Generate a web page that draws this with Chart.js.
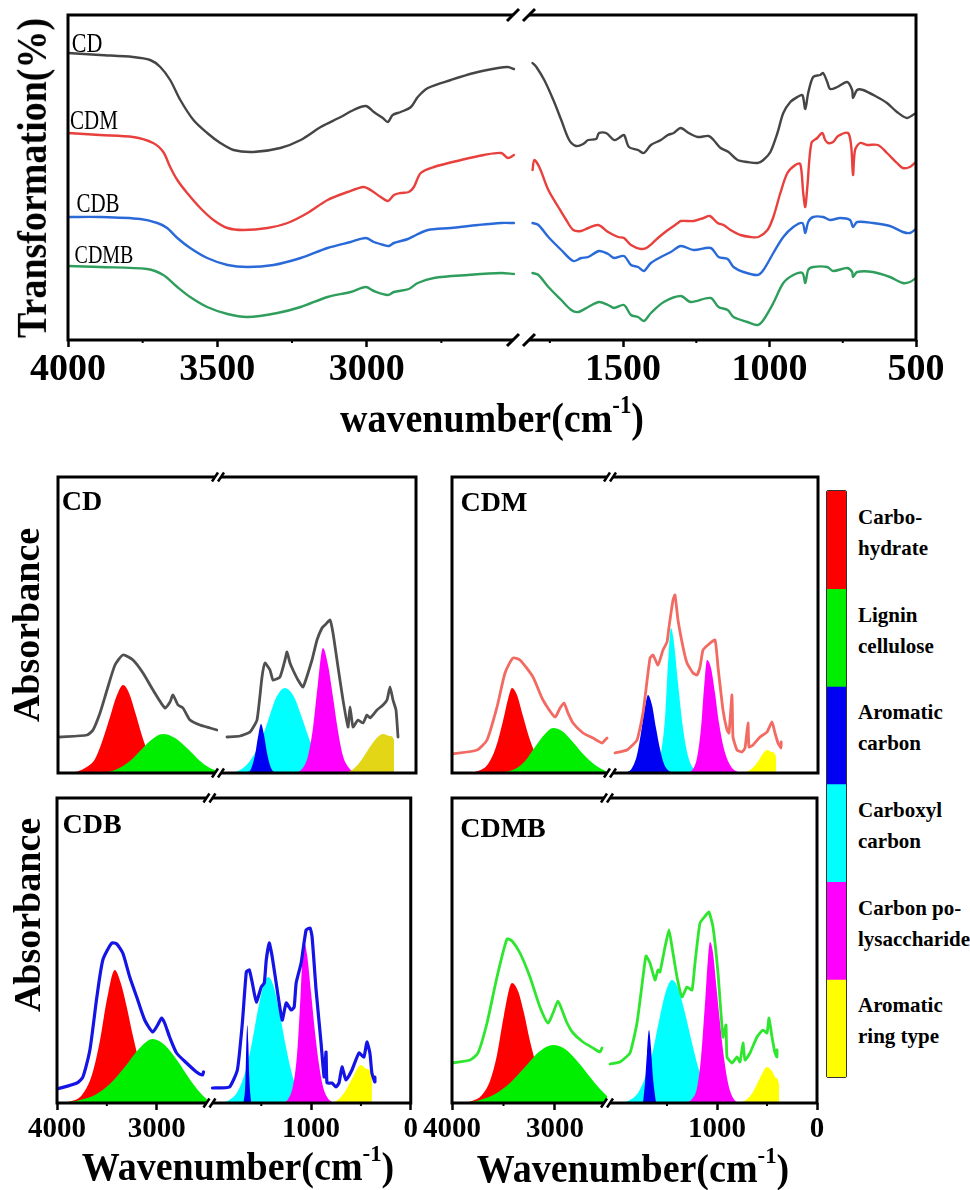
<!DOCTYPE html>
<html><head><meta charset="utf-8">
<script src="https://cdn.jsdelivr.net/npm/chart.js@4.4.1/dist/chart.umd.min.js"></script>
<style>
html,body{margin:0;padding:0;background:#fff;}
#page{position:relative;width:970px;height:1190px;overflow:hidden;background:#fff;font-family:"Liberation Serif","Times New Roman",serif;color:#000;}
canvas{position:absolute;}
.t{position:absolute;white-space:nowrap;line-height:1;}
.b{font-weight:bold;}
.sup{font-size:0.6em;position:relative;top:-0.8em;}
.leg{position:absolute;left:858px;font-weight:bold;font-size:21px;line-height:31px;white-space:nowrap;}
#legbox{position:absolute;left:826px;top:490px;width:19px;height:586px;border:1.5px solid #333;border-radius:2px;overflow:hidden;}
#legbox canvas{position:static;display:block;}
</style></head><body><div id="page">
<canvas id="cTop" style="left:0;top:0" width="970" height="400"></canvas>
<canvas id="cCD" style="left:0;top:465px" width="420" height="315"></canvas>
<canvas id="cCDM" style="left:420px;top:465px" width="410" height="315"></canvas>
<canvas id="cCDB" style="left:0;top:785px" width="420" height="405"></canvas>
<canvas id="cCDMB" style="left:420px;top:785px" width="410" height="405"></canvas>
<div id="legbox"><canvas id="cLeg" width="19" height="586"></canvas></div>

<div class="t b" style="left:32px;top:178px;font-size:38px;transform:translate(-50%,-50%) rotate(-90deg) scaleY(1.1);">Transformation(%)</div>
<div class="t b" style="left:492px;top:418px;font-size:38px;transform:translate(-50%,-50%) scaleY(1.1);">wavenumber(cm<span class="sup">-1</span>)</div>
<div class="t" style="left:87px;top:43px;font-size:22px;transform:translate(-50%,-50%) scaleY(1.25);">CD</div>
<div class="t" style="left:94px;top:121px;font-size:21px;transform:translate(-50%,-50%) scaleY(1.25);">CDM</div>
<div class="t" style="left:98px;top:204px;font-size:21px;transform:translate(-50%,-50%) scaleY(1.25);">CDB</div>
<div class="t" style="left:104px;top:254px;font-size:20px;transform:translate(-50%,-50%) scaleY(1.25);">CDMB</div>

<div class="t b" style="left:82px;top:501px;font-size:28px;transform:translate(-50%,-50%);">CD</div>
<div class="t b" style="left:494px;top:502px;font-size:28px;transform:translate(-50%,-50%);">CDM</div>
<div class="t b" style="left:92px;top:824px;font-size:28px;transform:translate(-50%,-50%);">CDB</div>
<div class="t b" style="left:503px;top:828px;font-size:28px;transform:translate(-50%,-50%);">CDMB</div>
<div class="t b" style="left:26px;top:625px;font-size:38px;transform:translate(-50%,-50%) rotate(-90deg);">Absorbance</div>
<div class="t b" style="left:27px;top:915px;font-size:38px;transform:translate(-50%,-50%) rotate(-90deg);">Absorbance</div>
<div class="t b" style="left:238px;top:1166px;font-size:38px;transform:translate(-50%,-50%) scaleY(1.05);">Wavenumber(cm<span class="sup">-1</span>)</div>
<div class="t b" style="left:633px;top:1168px;font-size:38px;transform:translate(-50%,-50%) scaleY(1.05);">Wavenumber(cm<span class="sup">-1</span>)</div>
</div>
<script>
// ---------------- DATA ----------------
// Top panel (FTIR transmittance, arbitrary units), [wavenumber, value]
const TOP_CD_L = [[4000,287],[3893,285],[3782,283],[3725,280],[3691,273],[3658,260],[3624,240],[3580,220],[3534,207],[3490,197],[3446,190],[3379,188],[3289,192],[3221,200],[3154,213],[3087,223],[3044,230],[3003,234],[2976,228],[2946,222],[2929,218],[2913,225],[2886,228],[2852,233],[2829,243],[2795,252],[2718,260],[2641,267],[2560,272],[2527,273],[2507,271]];
const TOP_CD_R = [[1809,277],[1796,273],[1769,260],[1738,240],[1711,220],[1684,200],[1660,194],[1636,196],[1619,200],[1592,201],[1582,207],[1558,207],[1531,200],[1514,202],[1497,205],[1480,193],[1449,190],[1429,187],[1405,195],[1371,200],[1347,205],[1327,207],[1303,212],[1276,207],[1245,203],[1208,204],[1191,200],[1167,192],[1140,188],[1109,180],[1075,178],[1041,177],[1021,180],[997,188],[973,207],[953,227],[929,238],[905,243],[888,245],[878,231],[868,247],[851,263],[827,265],[817,267],[803,258],[793,251],[769,253],[735,258],[718,250],[715,242],[701,250],[681,250],[633,243],[599,237],[565,228],[531,222],[511,225],[500,227]];
const TOP_CDM_L = [[4000,207],[3893,205],[3782,203],[3715,197],[3681,188],[3658,173],[3634,160],[3601,147],[3557,132],[3513,120],[3466,112],[3413,110],[3332,112],[3265,117],[3198,127],[3131,140],[3064,148],[3010,153],[2987,150],[2953,143],[2929,139],[2909,145],[2886,147],[2859,148],[2842,153],[2819,167],[2775,173],[2684,180],[2607,185],[2550,187],[2527,182],[2507,185]];
const TOP_CDM_R = [[1809,170],[1803,180],[1786,173],[1755,150],[1721,133],[1694,120],[1670,110],[1643,109],[1619,112],[1585,115],[1551,108],[1517,103],[1497,102],[1473,95],[1439,91],[1415,93],[1381,102],[1347,110],[1313,117],[1303,119],[1259,119],[1225,122],[1204,124],[1177,117],[1157,115],[1133,110],[1099,105],[1065,103],[1038,103],[1007,110],[987,123],[963,147],[939,167],[912,175],[895,176],[885,147],[878,133],[871,153],[857,197],[837,202],[820,207],[810,200],[800,197],[783,198],[766,204],[732,207],[721,193],[715,165],[708,190],[691,197],[667,195],[630,195],[599,187],[565,177],[545,172],[521,173],[500,178]];
const TOP_CDB_L = [[4000,123],[3893,123],[3758,121],[3701,117],[3668,112],[3634,102],[3591,92],[3534,82],[3466,75],[3399,73],[3312,75],[3221,82],[3131,92],[3054,98],[3003,102],[2976,98],[2943,95],[2926,94],[2909,97],[2862,101],[2835,105],[2795,110],[2718,112],[2627,115],[2550,117],[2507,117]];
const TOP_CDB_R = [[1809,117],[1789,115],[1755,103],[1711,90],[1670,79],[1643,82],[1619,83],[1582,89],[1551,86],[1531,82],[1497,84],[1473,75],[1449,73],[1429,69],[1405,77],[1371,83],[1337,88],[1303,94],[1259,90],[1201,92],[1174,83],[1143,81],[1123,73],[1089,68],[1041,65],[1021,70],[987,87],[953,103],[919,113],[888,117],[878,107],[868,118],[851,123],[817,123],[793,120],[759,122],[725,120],[715,113],[701,118],[647,117],[589,114],[545,108],[521,107],[500,111]];
const TOP_CDMB_L = [[4000,74],[3893,73],[3735,71],[3681,65],[3634,53],[3591,43],[3534,33],[3466,26],[3399,23],[3299,27],[3221,33],[3131,43],[3054,48],[3003,53],[2976,49],[2929,45],[2909,48],[2859,51],[2829,57],[2775,62],[2661,65],[2550,67],[2507,66]];
const TOP_CDMB_R = [[1809,67],[1789,65],[1755,53],[1711,40],[1677,30],[1653,28],[1619,33],[1582,38],[1551,35],[1531,32],[1497,35],[1473,25],[1449,23],[1429,19],[1405,27],[1361,38],[1303,44],[1269,38],[1201,42],[1174,33],[1143,30],[1123,23],[1075,18],[1041,15],[1021,20],[987,37],[953,57],[919,65],[888,67],[878,57],[868,70],[851,73],[803,73],[783,69],[735,72],[718,68],[715,63],[701,68],[647,68],[589,63],[545,57],[521,58],[500,62]];

// Deconvolution panels: spectra (absorbance, a.u.)
const SP_CD_L = [[3980,36],[3710,38],[3650,43],[3580,60],[3510,83],[3430,108],[3350,118],[3250,113],[3150,100],[3050,83],[2930,65],[2880,71],[2850,78],[2800,68],[2750,65],[2680,53],[2580,48],[2480,45],[2410,43]];
const SP_CD_R = [[1890,36],[1760,37],[1660,41],[1590,53],[1540,96],[1510,110],[1460,103],[1430,93],[1360,96],[1310,113],[1290,121],[1260,110],[1230,103],[1180,93],[1130,86],[1040,113],[990,133],[940,145],[910,148],[860,153],[830,140],[780,106],[730,73],[680,46],[660,66],[630,46],[580,53],[530,50],[490,58],[460,55],[390,63],[330,68],[290,73],[260,86],[230,73],[200,63],[180,36]];
const SP_CDM_L = [[4000,19],[3757,23],[3660,33],[3563,66],[3485,100],[3408,115],[3340,113],[3214,96],[3117,73],[3000,56],[2951,65],[2913,70],[2874,60],[2825,50],[2728,40],[2631,35],[2544,30],[2514,33],[2495,35]];
const SP_CDM_R = [[2030,20],[1910,23],[1810,33],[1750,60],[1680,115],[1650,118],[1600,108],[1550,123],[1510,131],[1490,146],[1450,173],[1430,178],[1400,153],[1350,126],[1310,110],[1250,100],[1210,98],[1180,106],[1150,123],[1100,128],[1030,133],[1000,106],[950,63],[910,43],[890,40],[860,78],[850,36],[810,23],[760,21],[730,25],[700,50],[690,26],[650,28],[580,36],[510,41],[460,51],[430,40],[400,30],[370,25],[368,31]];
const SP_CDB_L = [[4000,14],[3800,20],[3740,26],[3670,53],[3600,106],[3540,143],[3450,160],[3400,159],[3340,150],[3270,126],[3200,106],[3120,83],[3040,71],[2990,78],[2950,85],[2920,80],[2870,66],[2800,50],[2700,40],[2600,31],[2540,28],[2530,31]];
const SP_CDB_R = [[1990,15],[1820,16],[1740,33],[1690,80],[1650,131],[1620,133],[1590,120],[1550,101],[1500,116],[1470,120],[1450,143],[1420,160],[1390,146],[1340,113],[1290,83],[1250,100],[1200,93],[1170,96],[1150,120],[1100,140],[1050,173],[1010,175],[990,166],[950,113],[900,60],[870,26],[850,51],[840,20],[790,20],[750,16],[720,20],[690,36],[650,23],[590,33],[520,50],[470,46],[440,61],[410,50],[390,30],[360,21],[360,26]];
const SP_CDMB_L = [[4000,40],[3825,43],[3748,50],[3660,80],[3563,126],[3466,164],[3417,162],[3340,150],[3243,126],[3146,96],[3068,80],[3019,90],[2971,102],[2932,93],[2883,80],[2825,70],[2728,61],[2631,55],[2563,51],[2544,55]];
const SP_CDMB_R = [[2070,39],[1970,41],[1870,50],[1800,80],[1740,126],[1710,147],[1670,140],[1620,123],[1590,133],[1570,131],[1520,156],[1480,173],[1450,156],[1400,126],[1350,106],[1300,116],[1250,113],[1220,140],[1170,180],[1110,188],[1080,191],[1040,176],[990,130],[940,66],[910,78],[900,46],[850,40],[800,46],[770,41],[740,60],[720,43],[670,50],[600,66],[540,73],[500,70],[480,85],[450,66],[420,50],[400,46],[400,53]];

// Fitted component peaks
const PK_CD_RED = [[3980,0],[3830,1],[3730,5],[3630,14],[3550,34],[3480,56],[3410,78],[3350,88],[3290,80],[3220,58],[3150,34],[3080,16],[3000,5],[2910,1],[2780,0]];
const PK_CD_GREEN = [[3580,0],[3430,3],[3280,12],[3180,22],[3080,32],[2950,39],[2830,35],[2700,24],[2580,12],[2480,5],[2400,2]];
const PK_CD_BLUE = [[1700,0],[1650,4],[1610,18],[1580,36],[1550,49],[1520,38],[1490,20],[1450,5],[1400,0]];
const PK_CD_CYAN = [[1860,0],[1760,3],[1660,12],[1560,30],[1480,52],[1400,75],[1310,85],[1220,76],[1140,55],[1060,32],[980,14],[880,4],[760,0]];
const PK_CD_MAG = [[1210,0],[1140,4],[1080,17],[1030,45],[980,90],[930,125],[880,108],[830,76],[780,42],[730,17],[670,5],[600,0]];
const PK_CD_YEL = [[710,0],[640,3],[560,11],[480,23],[410,33],[330,39],[260,37],[220,33],[219,0]];

const PK_CDM_RED = [[3874,0],[3748,2],[3650,9],[3573,26],[3505,52],[3456,74],[3417,85],[3369,78],[3311,57],[3243,33],[3165,14],[3087,4],[2990,0]];
const PK_CDM_GREEN = [[3534,0],[3388,4],[3291,12],[3194,26],[3097,39],[3019,45],[2932,42],[2835,32],[2728,19],[2611,8],[2495,1]];
const PK_CDM_BLUE = [[1920,0],[1860,5],[1810,18],[1770,40],[1730,66],[1700,78],[1660,68],[1620,45],[1580,24],[1540,9],[1490,2],[1440,0]];
const PK_CDM_CYAN = [[1660,0],[1610,5],[1570,20],[1530,55],[1500,110],[1470,145],[1440,130],[1400,90],[1350,45],[1300,17],[1250,5],[1180,0]];
const PK_CDM_MAG = [[1300,0],[1250,4],[1210,15],[1170,45],[1140,85],[1110,113],[1070,105],[1030,80],[990,50],[940,24],[880,8],[800,1],[740,0]];
const PK_CDM_YEL = [[750,0],[680,3],[610,10],[560,18],[510,23],[460,21],[420,16],[419,0]];

const PK_CDB_RED = [[3970,0],[3850,2],[3750,8],[3650,28],[3570,62],[3500,103],[3420,133],[3360,120],[3300,96],[3240,68],[3170,40],[3090,19],[3000,6],[2900,1],[2800,0]];
const PK_CDB_GREEN = [[3920,0],[3770,3],[3620,8],[3470,19],[3320,36],[3170,55],[3040,64],[2920,58],[2790,42],[2670,24],[2570,11],[2500,4],[2470,2]];
const PK_CDB_BLUE = [[1680,0],[1660,20],[1650,60],[1640,78],[1630,60],[1620,25],[1600,0]];
const PK_CDB_CYAN = [[1900,0],[1820,3],[1740,11],[1670,28],[1600,57],[1530,95],[1470,120],[1430,126],[1380,118],[1320,92],[1260,60],[1200,32],[1140,13],[1070,4],[1000,0]];
const PK_CDB_MAG = [[1290,0],[1230,4],[1180,18],[1140,50],[1110,100],[1090,140],[1070,161],[1040,148],[1000,110],[960,70],[920,38],[880,16],[840,6],[790,1],[740,0]];
const PK_CDB_YEL = [[800,0],[720,4],[650,13],[580,26],[500,38],[440,34],[390,27],[389,0]];

const PK_CDMB_RED = [[3903,0],[3806,2],[3709,8],[3631,22],[3563,48],[3495,88],[3417,120],[3359,112],[3301,90],[3243,62],[3175,36],[3097,16],[3019,6],[2932,1],[2835,0]];
const PK_CDMB_GREEN = [[3874,0],[3728,3],[3582,9],[3437,20],[3291,36],[3146,52],[3019,58],[2903,54],[2777,41],[2660,26],[2563,14],[2495,7]];
const PK_CDMB_BLUE = [[1740,0],[1720,20],[1700,50],[1680,73],[1660,55],[1640,25],[1610,0]];
const PK_CDMB_CYAN = [[1950,0],[1870,3],[1790,10],[1720,25],[1650,48],[1580,82],[1510,112],[1450,123],[1390,115],[1320,90],[1250,60],[1180,33],[1110,14],[1030,4],[950,0]];
const PK_CDMB_MAG = [[1310,0],[1250,4],[1200,15],[1160,45],[1120,100],[1090,145],[1070,161],[1040,150],[1010,120],[970,80],[930,45],[890,20],[850,7],[800,1],[750,0]];
const PK_CDMB_YEL = [[790,0],[710,3],[640,11],[570,25],[500,36],[450,32],[410,25],[380,18],[379,0]];

// Tick values
const TOP_TICKS_L = [4000, 3500, 3000];
const TOP_TICKS_R = [1500, 1000, 500];
const TOP_MINOR_L = [3750, 3250, 2750];
const TOP_MINOR_R = [1750, 1250, 750];
const SUB_TICKS_L = [4000, 3000];
const SUB_TICKS_R = [1000, 0];
const SUB_MINOR_L = [3500];
const SUB_MINOR_R = [1500, 500];

// Legend
const LEGEND_LABELS = [['Carbo-','hydrate'],['Lignin','cellulose'],['Aromatic','carbon'],['Carboxyl','carbon'],['Carbon po-','lysaccharide'],['Aromatic','ring type']];
const LEGEND_SHARE = [1,1,1,1,1,1];

// ---------------- STYLE ----------------
const COL = {red:'#ff0000', green:'#00ee00', blue:'#0000f2', cyan:'#00ffff', mag:'#ff00ff', yel:'#ffff00'};
const LEGEND_COLORS = [COL.red, COL.green, COL.blue, COL.cyan, COL.mag, COL.yel];

const framePlugin = {
  id: 'frame',
  afterDraw(chart, args, o) {
    const {ctx, chartArea: a} = chart;
    const xl = chart.scales.xL, xr = chart.scales.xR;
    ctx.save();
    ctx.strokeStyle = '#000';
    ctx.lineWidth = o.lw;
    ctx.strokeRect(a.left, a.top, a.right - a.left, a.bottom - a.top);
    if (o.minor) {
      ctx.lineWidth = 2;
      ctx.beginPath();
      (o.minorL || []).forEach(v => { const x = xl.getPixelForValue(v); ctx.moveTo(x, a.bottom); ctx.lineTo(x, a.bottom + o.minorLen); });
      (o.minorR || []).forEach(v => { const x = xr.getPixelForValue(v); ctx.moveTo(x, a.bottom); ctx.lineTo(x, a.bottom + o.minorLen); });
      ctx.stroke();
    }
    const bx = xl.right + (o.bOff || 0);
    for (const y of [a.top, a.bottom]) {
      ctx.fillStyle = '#fff';
      ctx.fillRect(bx - o.gap / 2, y - o.lw, o.gap, o.lw * 2);
      ctx.strokeStyle = '#000';
      ctx.lineWidth = o.blw;
      ctx.lineCap = 'butt';
      ctx.beginPath();
      for (const cx of [bx - o.gap / 2, bx + o.gap / 2]) {
        ctx.moveTo(cx - o.s, y + o.h / 2);
        ctx.lineTo(cx + o.s, y - o.h / 2);
      }
      ctx.stroke();
    }
    ctx.restore();
  }
};

function xScale(range, weight, majors, show, tc) {
  return {
    type: 'linear', position: 'bottom', stack: 'wn', stackWeight: weight,
    min: range[0], max: range[1], reverse: true,
    afterBuildTicks: s => { s.ticks = majors.map(v => ({value: v})); },
    afterFit: s => { s.height = tc.h; },
    grid: {display: show, drawOnChartArea: false, drawTicks: show, tickLength: tc.len, tickWidth: 2.5, tickColor: '#000', color: '#000'},
    border: {display: false},
    ticks: {display: show, autoSkip: false, maxRotation: 0, minRotation: 0, padding: tc.pad, color: '#000',
      font: {family: 'Liberation Serif', size: tc.size, weight: 'bold'}, callback: v => String(v)}
  };
}

function line(data, axis, color, width, tension) {
  return {data, xAxisID: axis, yAxisID: 'y', borderColor: color, borderWidth: width, pointRadius: 0,
    fill: false, tension: tension || 0, borderJoinStyle: 'round', borderCapStyle: 'round'};
}
function peak(data, axis, color) {
  return {data, xAxisID: axis, yAxisID: 'y', backgroundColor: color, borderWidth: 0, borderColor: 'rgba(0,0,0,0)',
    pointRadius: 0, fill: 'origin', cubicInterpolationMode: 'monotone'};
}

function makeChart(id, p) {
  return new Chart(document.getElementById(id), {
    type: 'line',
    data: {datasets: p.datasets},
    options: {
      responsive: false, animation: false, devicePixelRatio: 1,
      layout: {padding: p.pad},
      plugins: {legend: {display: false}, tooltip: {enabled: false}, frame: p.frame},
      scales: {
        xL: xScale(p.left, p.wL, p.ticksL, p.show, p.tc),
        xR: xScale(p.right, p.wR, p.ticksR, p.show, p.tc),
        y: {type: 'linear', display: false, min: 0, max: p.yMax}
      }
    },
    plugins: [framePlugin]
  });
}

// ---- Top FTIR panel ----
const TOPC = {CD: '#454545', CDM: '#e8403c', CDB: '#2a6ad8', CDMB: '#2f9e5c'};
const TT = 0.3;
makeChart('cTop', {
  pad: {left: 68, right: 54, top: 15, bottom: 0},
  left: [2480, 4000], right: [500, 1845], wL: 454, wR: 394,
  ticksL: TOP_TICKS_L, ticksR: TOP_TICKS_R, show: true,
  tc: {h: 60, len: 7, pad: 0, size: 38},
  yMax: 325,
  frame: {lw: 3, minor: true, minorL: TOP_MINOR_L, minorR: TOP_MINOR_R, minorLen: 3, bOff: -1, gap: 16, s: 6, h: 12, blw: 3},
  datasets: [
    line(TOP_CD_L, 'xL', TOPC.CD, 2.4, TT), line(TOP_CD_R, 'xR', TOPC.CD, 2.4, TT),
    line(TOP_CDM_L, 'xL', TOPC.CDM, 2.4, TT), line(TOP_CDM_R, 'xR', TOPC.CDM, 2.4, TT),
    line(TOP_CDB_L, 'xL', TOPC.CDB, 2.4, TT), line(TOP_CDB_R, 'xR', TOPC.CDB, 2.4, TT),
    line(TOP_CDMB_L, 'xL', TOPC.CDMB, 2.4, TT), line(TOP_CDMB_R, 'xR', TOPC.CDMB, 2.4, TT)
  ]
});

function subPanel(id, cfg, sp, pk, spColor, spWidth, yelColor) {
  const ds = [
    line(sp[0], 'xL', spColor, spWidth, 0.2), line(sp[1], 'xR', spColor, spWidth, 0.15),
    peak(pk.yel, 'xR', yelColor || COL.yel),
    peak(pk.blue, 'xR', COL.blue),
    peak(pk.mag, 'xR', COL.mag),
    peak(pk.cyan, 'xR', COL.cyan),
    peak(pk.green, 'xL', COL.green),
    peak(pk.red, 'xL', COL.red)
  ];
  makeChart(id, Object.assign({datasets: ds}, cfg));
}
const SUBFRAME = {lw: 3, minor: false, bOff: 0, gap: 6, s: 3, h: 9, blw: 2.5};
const SUBFRAME_T = Object.assign({}, SUBFRAME, {minor: true, minorL: SUB_MINOR_L, minorR: SUB_MINOR_R, minorLen: 3});

subPanel('cCD', {
  pad: {left: 58, right: 4, top: 12, bottom: 0}, left: [2400, 4000], right: [0, 1980], wL: 160, wR: 198,
  ticksL: SUB_TICKS_L, ticksR: SUB_TICKS_R, show: false, tc: {h: 7, len: 7, pad: 2, size: 29}, yMax: 296, frame: SUBFRAME
}, [SP_CD_L, SP_CD_R], {red: PK_CD_RED, green: PK_CD_GREEN, blue: PK_CD_BLUE, cyan: PK_CD_CYAN, mag: PK_CD_MAG, yel: PK_CD_YEL}, '#505050', 2.8, '#e3d616');

subPanel('cCDM', {
  pad: {left: 32, right: 12, top: 12, bottom: 0}, left: [2466, 4000], right: [0, 2080], wL: 158, wR: 208,
  ticksL: SUB_TICKS_L, ticksR: SUB_TICKS_R, show: false, tc: {h: 7, len: 7, pad: 2, size: 29}, yMax: 296, frame: SUBFRAME
}, [SP_CDM_L, SP_CDM_R], {red: PK_CDM_RED, green: PK_CDM_GREEN, blue: PK_CDM_BLUE, cyan: PK_CDM_CYAN, mag: PK_CDM_MAG, yel: PK_CDM_YEL}, '#f26a62', 2.8);

subPanel('cCDB', {
  pad: {left: 57, right: 8, top: 13, bottom: 0}, left: [2470, 4000], right: [0, 2020], wL: 153, wR: 202,
  ticksL: SUB_TICKS_L, ticksR: SUB_TICKS_R, show: true, tc: {h: 87, len: 7, pad: 2, size: 29}, yMax: 305, frame: SUBFRAME_T
}, [SP_CDB_L, SP_CDB_R], {red: PK_CDB_RED, green: PK_CDB_GREEN, blue: PK_CDB_BLUE, cyan: PK_CDB_CYAN, mag: PK_CDB_MAG, yel: PK_CDB_YEL}, '#1414e6', 3.2);

subPanel('cCDMB', {
  pad: {left: 32, right: 13, top: 13, bottom: 0}, left: [2495, 4000], right: [0, 2100], wL: 155, wR: 210,
  ticksL: SUB_TICKS_L, ticksR: SUB_TICKS_R, show: true, tc: {h: 87, len: 7, pad: 2, size: 29}, yMax: 305, frame: SUBFRAME_T
}, [SP_CDMB_L, SP_CDMB_R], {red: PK_CDMB_RED, green: PK_CDMB_GREEN, blue: PK_CDMB_BLUE, cyan: PK_CDMB_CYAN, mag: PK_CDMB_MAG, yel: PK_CDMB_YEL}, '#2ee62e', 2.8);

// ---- Colour legend bar ----
new Chart(document.getElementById('cLeg'), {
  type: 'bar',
  data: {labels: [''], datasets: LEGEND_COLORS.map((c, i) => ({data: [LEGEND_SHARE[i]], backgroundColor: c, borderWidth: 0, barPercentage: 1, categoryPercentage: 1}))},
  options: {responsive: false, animation: false, devicePixelRatio: 1, layout: {padding: 0},
    plugins: {legend: {display: false}, tooltip: {enabled: false}},
    scales: {x: {display: false, stacked: true}, y: {display: false, stacked: true, min: 0, max: 6, reverse: true}}}
});
const page = document.getElementById('page');
const segH = 586 / LEGEND_LABELS.length;
LEGEND_LABELS.forEach((lines, i) => {
  const d = document.createElement('div');
  d.className = 'leg';
  d.style.top = (491 + segH * (i + 0.5) - 7 - 31) + 'px';
  d.innerHTML = lines.join('<br>');
  page.appendChild(d);
});
</script>
</body></html>
